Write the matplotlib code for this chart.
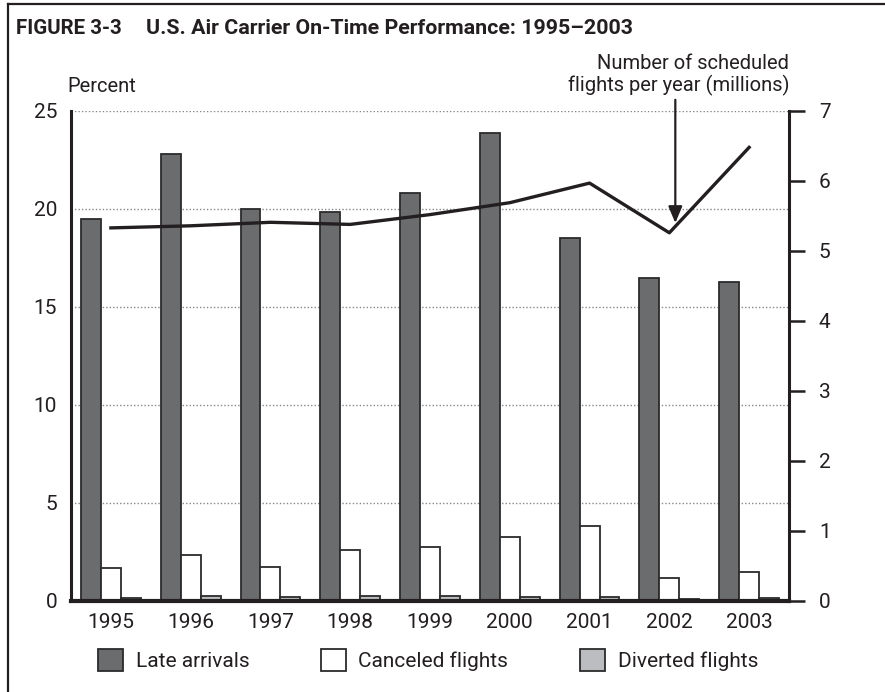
import matplotlib.pyplot as plt
import numpy as np
from matplotlib.patches import Patch
from matplotlib.lines import Line2D

years = ['1995', '1996', '1997', '1998', '1999', '2000', '2001', '2002', '2003']
late = [19.5, 22.8, 20.0, 19.85, 20.8, 23.9, 18.5, 16.5, 16.3]
canceled = [1.7, 2.35, 1.75, 2.6, 2.75, 3.25, 3.85, 1.15, 1.5]
diverted = [0.15, 0.25, 0.2, 0.24, 0.24, 0.22, 0.2, 0.12, 0.16]
flights = [5.33, 5.36, 5.41, 5.38, 5.52, 5.69, 5.97, 5.26, 6.48]

FONT = ['Roboto', 'DejaVu Sans']
plt.rcParams['font.family'] = FONT
ink = '#231f20'
dark = '#6b6c6e'
light = '#bcbdc0'
edge = '#2b2b2b'

W, H = 885, 692
fig = plt.figure(figsize=(W / 100, H / 100), dpi=100)
ax = fig.add_axes([71 / W, 1 - 601 / H, (789 - 71) / W, (601 - 111) / H])

x = np.arange(len(years))
bw = 0.25
kw = dict(width=bw, edgecolor=edge, linewidth=1.3, zorder=3)
ax.bar(x - bw, late, color=dark, **kw)
ax.bar(x, canceled, color='white', **kw)
ax.bar(x + bw, diverted, color=light, **kw)

ax.set_xlim(-0.5, 8.5)
ax.set_ylim(0, 25)
ax.set_yticks([0, 5, 10, 15, 20, 25])
ax.set_xticks(x)
ax.set_xticklabels(years)
ax.tick_params(axis='both', length=0, labelsize=15, colors=ink)
ax.tick_params(axis='y', pad=10)
ax.tick_params(axis='x', pad=9)
ax.yaxis.grid(True, linestyle=(0, (1, 1.5)), color='#888888', linewidth=1.0, zorder=0)
ax.set_axisbelow(True)
for s in ['top', 'right']:
    ax.spines[s].set_visible(False)
ax.spines['left'].set_linewidth(2.2)
ax.spines['left'].set_color(ink)
ax.spines['bottom'].set_linewidth(3)
ax.spines['bottom'].set_color(ink)
ax.spines['bottom'].set_zorder(5)

# right axis: scheduled flights in millions
ax2 = ax.twinx()
ax2.set_ylim(0, 7)
ax2.set_yticks(range(0, 8))
ax2.plot(x, flights, color=ink, linewidth=2.4, zorder=6)
for s in ['top', 'left', 'bottom']:
    ax2.spines[s].set_visible(False)
ax2.spines['right'].set_linewidth(2.2)
ax2.spines['right'].set_color(ink)
ax2.tick_params(axis='y', direction='out', length=11.5, width=1.8, pad=10,
                labelsize=15, colors=ink)

ax2.annotate('', xy=(7.075, flights[7] + 0.14), xytext=(7.075, 7.16),
             arrowprops=dict(arrowstyle='-|>,head_length=1.0,head_width=0.42',
                             color=ink, lw=1.6, shrinkA=0, shrinkB=0),
             annotation_clip=False)

fig.text(789 / W, 1 - 96 / H, 'Number of scheduled\nflights per year (millions)',
         ha='right', va='bottom', fontsize=14.5, color=ink, linespacing=1.1)
fig.text(67 / W, 1 - 96 / H, 'Percent', ha='left', va='bottom', fontsize=14.5, color=ink)

fig.text(16 / W, 1 - 28 / H, 'FIGURE 3-3', ha='left', va='center',
         fontsize=14.8, fontweight='bold', color=ink)
fig.text(146 / W, 1 - 28 / H, 'U.S. Air Carrier On-Time Performance: 1995–2003',
         ha='left', va='center', fontsize=15.4, fontweight='bold', color=ink)

# frame edges
fig.add_artist(Line2D([8 / W, 8 / W], [0, 1 - 4 / H], color=ink, linewidth=1.6))
fig.add_artist(Line2D([8 / W, 1], [1 - 4 / H, 1 - 4 / H], color=ink, linewidth=1.6))

handles = [Patch(facecolor=dark, edgecolor=edge, linewidth=1.3, label='Late arrivals'),
           Patch(facecolor='white', edgecolor=edge, linewidth=1.3, label='Canceled flights'),
           Patch(facecolor=light, edgecolor=edge, linewidth=1.3, label='Diverted flights')]
leg = fig.legend(handles=handles, loc='center left', bbox_to_anchor=(98 / W, 1 - 660 / H),
                 ncol=3, frameon=False, fontsize=15, handlelength=1.2, handleheight=1.2,
                 handletextpad=0.6, columnspacing=3.45, borderpad=0, borderaxespad=0)
for t in leg.get_texts():
    t.set_color(ink)

fig.savefig('out.png', dpi=100)
